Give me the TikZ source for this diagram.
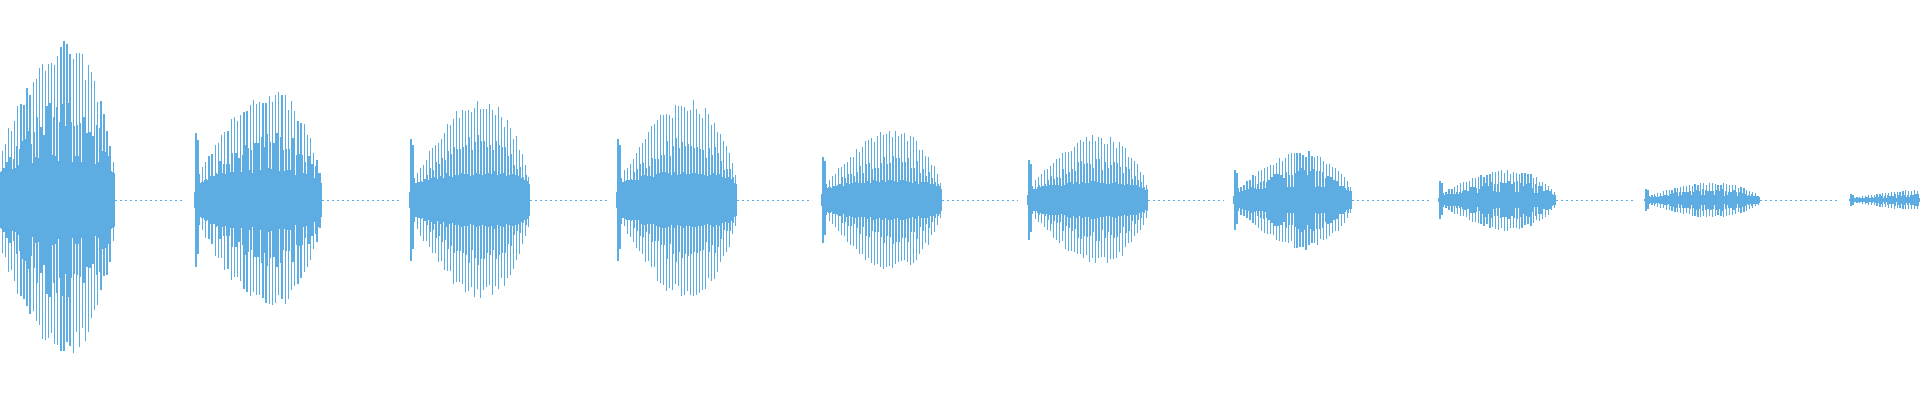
\documentclass[tikz,border=0pt]{standalone}
\definecolor{wavec}{RGB}{93,173,226}
\tikzset{core/.style={draw=wavec,line width=1.3pt},spike/.style={draw=wavec,line width=1.3pt},
gap/.style={draw=wavec,line width=0.8pt,dash pattern=on 2pt off 3pt}}
\begin{document}
\begin{tikzpicture}[x=1pt,y=1pt]
\useasboundingbox (0,0) rectangle (1920,400);
\pgfmathsetseed{7}
\foreach \xs/\xe/\A/\nx in {-8/115/160/195, 195/322/112/410, 410/530/102/617, 617/737/102/822, 822/942/72/1028, 1028/1148/66/1234, 1234/1352/50/1439, 1439/1556/31/1645, 1645/1760/18/1850, 1850/1965/10/2000}{
  \pgfmathsetmacro{\w}{\xe-\xs}
  % core
  \foreach \k in {0,...,118}{
    \pgfmathsetmacro{\t}{\k/119}
    \pgfmathsetmacro{\x}{\xs+\t*\w}
    \pgfmathsetmacro{\a}{\A*(0.24+0.05*rnd)*(0.3+0.7*sin(180*\t^1.3)^0.3)}
    \draw[core] (\x,200-\a) -- (\x,200+\a);
  }
  % spikes
  \foreach \k in {0,...,39}{
    \pgfmathsetmacro{\t}{(\k+0.4)/40}
    \pgfmathsetmacro{\x}{\xs+\t*\w}
    \pgfmathsetmacro{\e}{0.15+0.85*sin(180*\t^1.3)^0.7}
    \pgfmathsetmacro{\a}{\A*(0.85+0.15*rnd)*\e}
    \pgfmathsetmacro{\b}{\A*(0.85+0.15*rnd)*\e}
    \draw[spike] (\x,200-\a) -- (\x,200+\b);
    \pgfmathsetmacro{\c}{\A*(0.45+0.2*rnd)*\e}
    \draw[core] (\x+1.5,200-\c) -- (\x+1.5,200+\c);
  }
  % onset
  \pgfmathsetmacro{\o}{\A*0.6}
  \draw[spike] (\xs+1,200-\o) -- (\xs+1,200+\o);
  \draw[spike] (\xs+3,200-\o*0.8) -- (\xs+3,200+\o*0.9);
  % gap
  \draw[gap] (\xe,200) -- (\nx-10,200);
}
\end{tikzpicture}
\end{document}
